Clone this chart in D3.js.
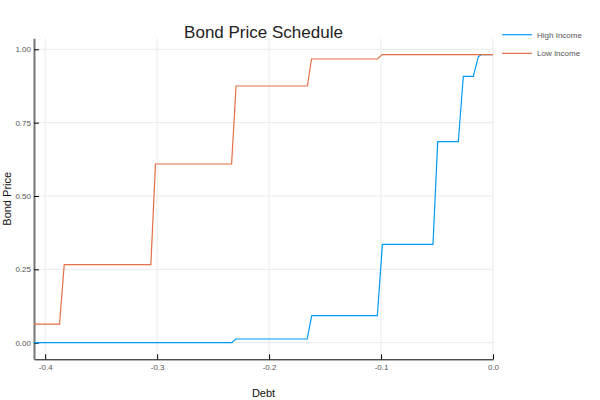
<!DOCTYPE html>
<html>
<head>
<meta charset="utf-8">
<script src="https://cdn.jsdelivr.net/npm/d3@7"></script>
<style>
  html, body { margin: 0; padding: 0; background: #fff; }
  svg { display: block; font-family: "Liberation Sans", Arial, sans-serif; }
</style>
</head>
<body>
<svg id="chart" width="600" height="400"></svg>
<script>
// ---- data ----
const seriesNames = ["High Income", "Low Income"];
const highDebt  = [-0.41, -0.2334, -0.2297, -0.1660, -0.1619, -0.1033, -0.0988, -0.0536, -0.0494, -0.0310, -0.0265, -0.0176, -0.0131, -0.0101, 0.0];
const highPrice = [0.0, 0.0, 0.0126, 0.0126, 0.092, 0.092, 0.335, 0.335, 0.685, 0.685, 0.908, 0.908, 0.975, 0.982, 0.982];
const lowDebt   = [-0.41, -0.3872, -0.3830, -0.3056, -0.3015, -0.2335, -0.2295, -0.1658, -0.1621, -0.1033, -0.0991, 0.0];
const lowPrice  = [0.063, 0.063, 0.266, 0.266, 0.609, 0.609, 0.875, 0.875, 0.967, 0.967, 0.982, 0.982];
const xTicks = [-0.4, -0.3, -0.2, -0.1, 0.0];
const xTickLabels = ["-0.4", "-0.3", "-0.2", "-0.1", "0.0"];
const yTicks = [0, 0.25, 0.5, 0.75, 1.0];
const yTickLabels = ["0.00", "0.25", "0.50", "0.75", "1.00"];
const colors = ["#009AFA", "#E26F46"];

// ---- layout ----
const svg = d3.select("#chart");
const pLeft = 34, pRight = 493, pTop = 38.3, pBottom = 359.3;
const x = d3.scaleLinear().domain([-0.41, 0]).range([pLeft, pRight]);
const y = d3.scaleLinear().domain([-0.0566, 1.0375]).range([pBottom, pTop]);

// grid
const grid = svg.append("g");
grid.selectAll("line.vx").data(xTicks).enter().append("line")
  .attr("x1", d => x(d)).attr("x2", d => x(d))
  .attr("y1", pTop).attr("y2", pBottom)
  .attr("stroke", "#ebebeb").attr("stroke-width", 1);
grid.selectAll("line.hy").data(yTicks).enter().append("line")
  .attr("x1", pLeft).attr("x2", pRight)
  .attr("y1", d => y(d)).attr("y2", d => y(d))
  .attr("stroke", "#ebebeb").attr("stroke-width", 1);

// axes
const xAxis = d3.axisBottom(x).tickValues(xTicks)
  .tickFormat((d, i) => xTickLabels[i]).tickSizeInner(-5).tickSizeOuter(0).tickPadding(5);
const gx = svg.append("g").attr("transform", `translate(0,${pBottom})`).call(xAxis);
gx.select(".domain").attr("stroke", "#000").attr("stroke-width", 1);
gx.selectAll(".tick line").attr("stroke", "#000");
gx.selectAll("text").attr("font-size", 8).attr("fill", "#555")
  .attr("font-family", "Liberation Sans, Arial, sans-serif");

const yAxis = d3.axisLeft(y).tickValues(yTicks)
  .tickFormat((d, i) => yTickLabels[i]).tickSizeInner(-5).tickSizeOuter(0).tickPadding(3);
const gy = svg.append("g").attr("transform", `translate(${pLeft},0)`).call(yAxis);
gy.select(".domain").attr("stroke", "#777").attr("stroke-width", 2);
gy.selectAll(".tick line").attr("stroke", "#000");
gy.selectAll("text").attr("font-size", 8).attr("fill", "#555")
  .attr("font-family", "Liberation Sans, Arial, sans-serif");

// lines
const line = d3.line().x(d => x(d[0])).y(d => y(d[1]));
const series = [
  d3.zip(highDebt, highPrice),
  d3.zip(lowDebt, lowPrice)
];
series.forEach((s, i) => {
  svg.append("path").datum(s).attr("d", line)
    .attr("fill", "none").attr("stroke", colors[i]).attr("stroke-width", 1.2);
});

// title & labels
svg.append("text").attr("x", (pLeft + pRight) / 2).attr("y", 37.5)
  .attr("text-anchor", "middle").attr("font-size", 17).attr("fill", "#222")
  .text("Bond Price Schedule");
svg.append("text").attr("x", (pLeft + pRight) / 2).attr("y", 397)
  .attr("text-anchor", "middle").attr("font-size", 11).attr("fill", "#111")
  .text("Debt");
svg.append("text").attr("transform", `translate(10.5,${(pTop + pBottom) / 2}) rotate(-90)`)
  .attr("text-anchor", "middle").attr("font-size", 11).attr("fill", "#111")
  .text("Bond Price");

// legend
const lg = svg.append("g");
seriesNames.forEach((n, i) => {
  const ly = 34.7 + i * 18.6;
  lg.append("line").attr("x1", 502).attr("x2", 532).attr("y1", ly).attr("y2", ly)
    .attr("stroke", colors[i]).attr("stroke-width", 1.2);
  lg.append("text").attr("x", 537).attr("y", ly + 3).attr("font-size", 8)
    .attr("fill", "#555").text(n);
});
</script>
</body>
</html>
